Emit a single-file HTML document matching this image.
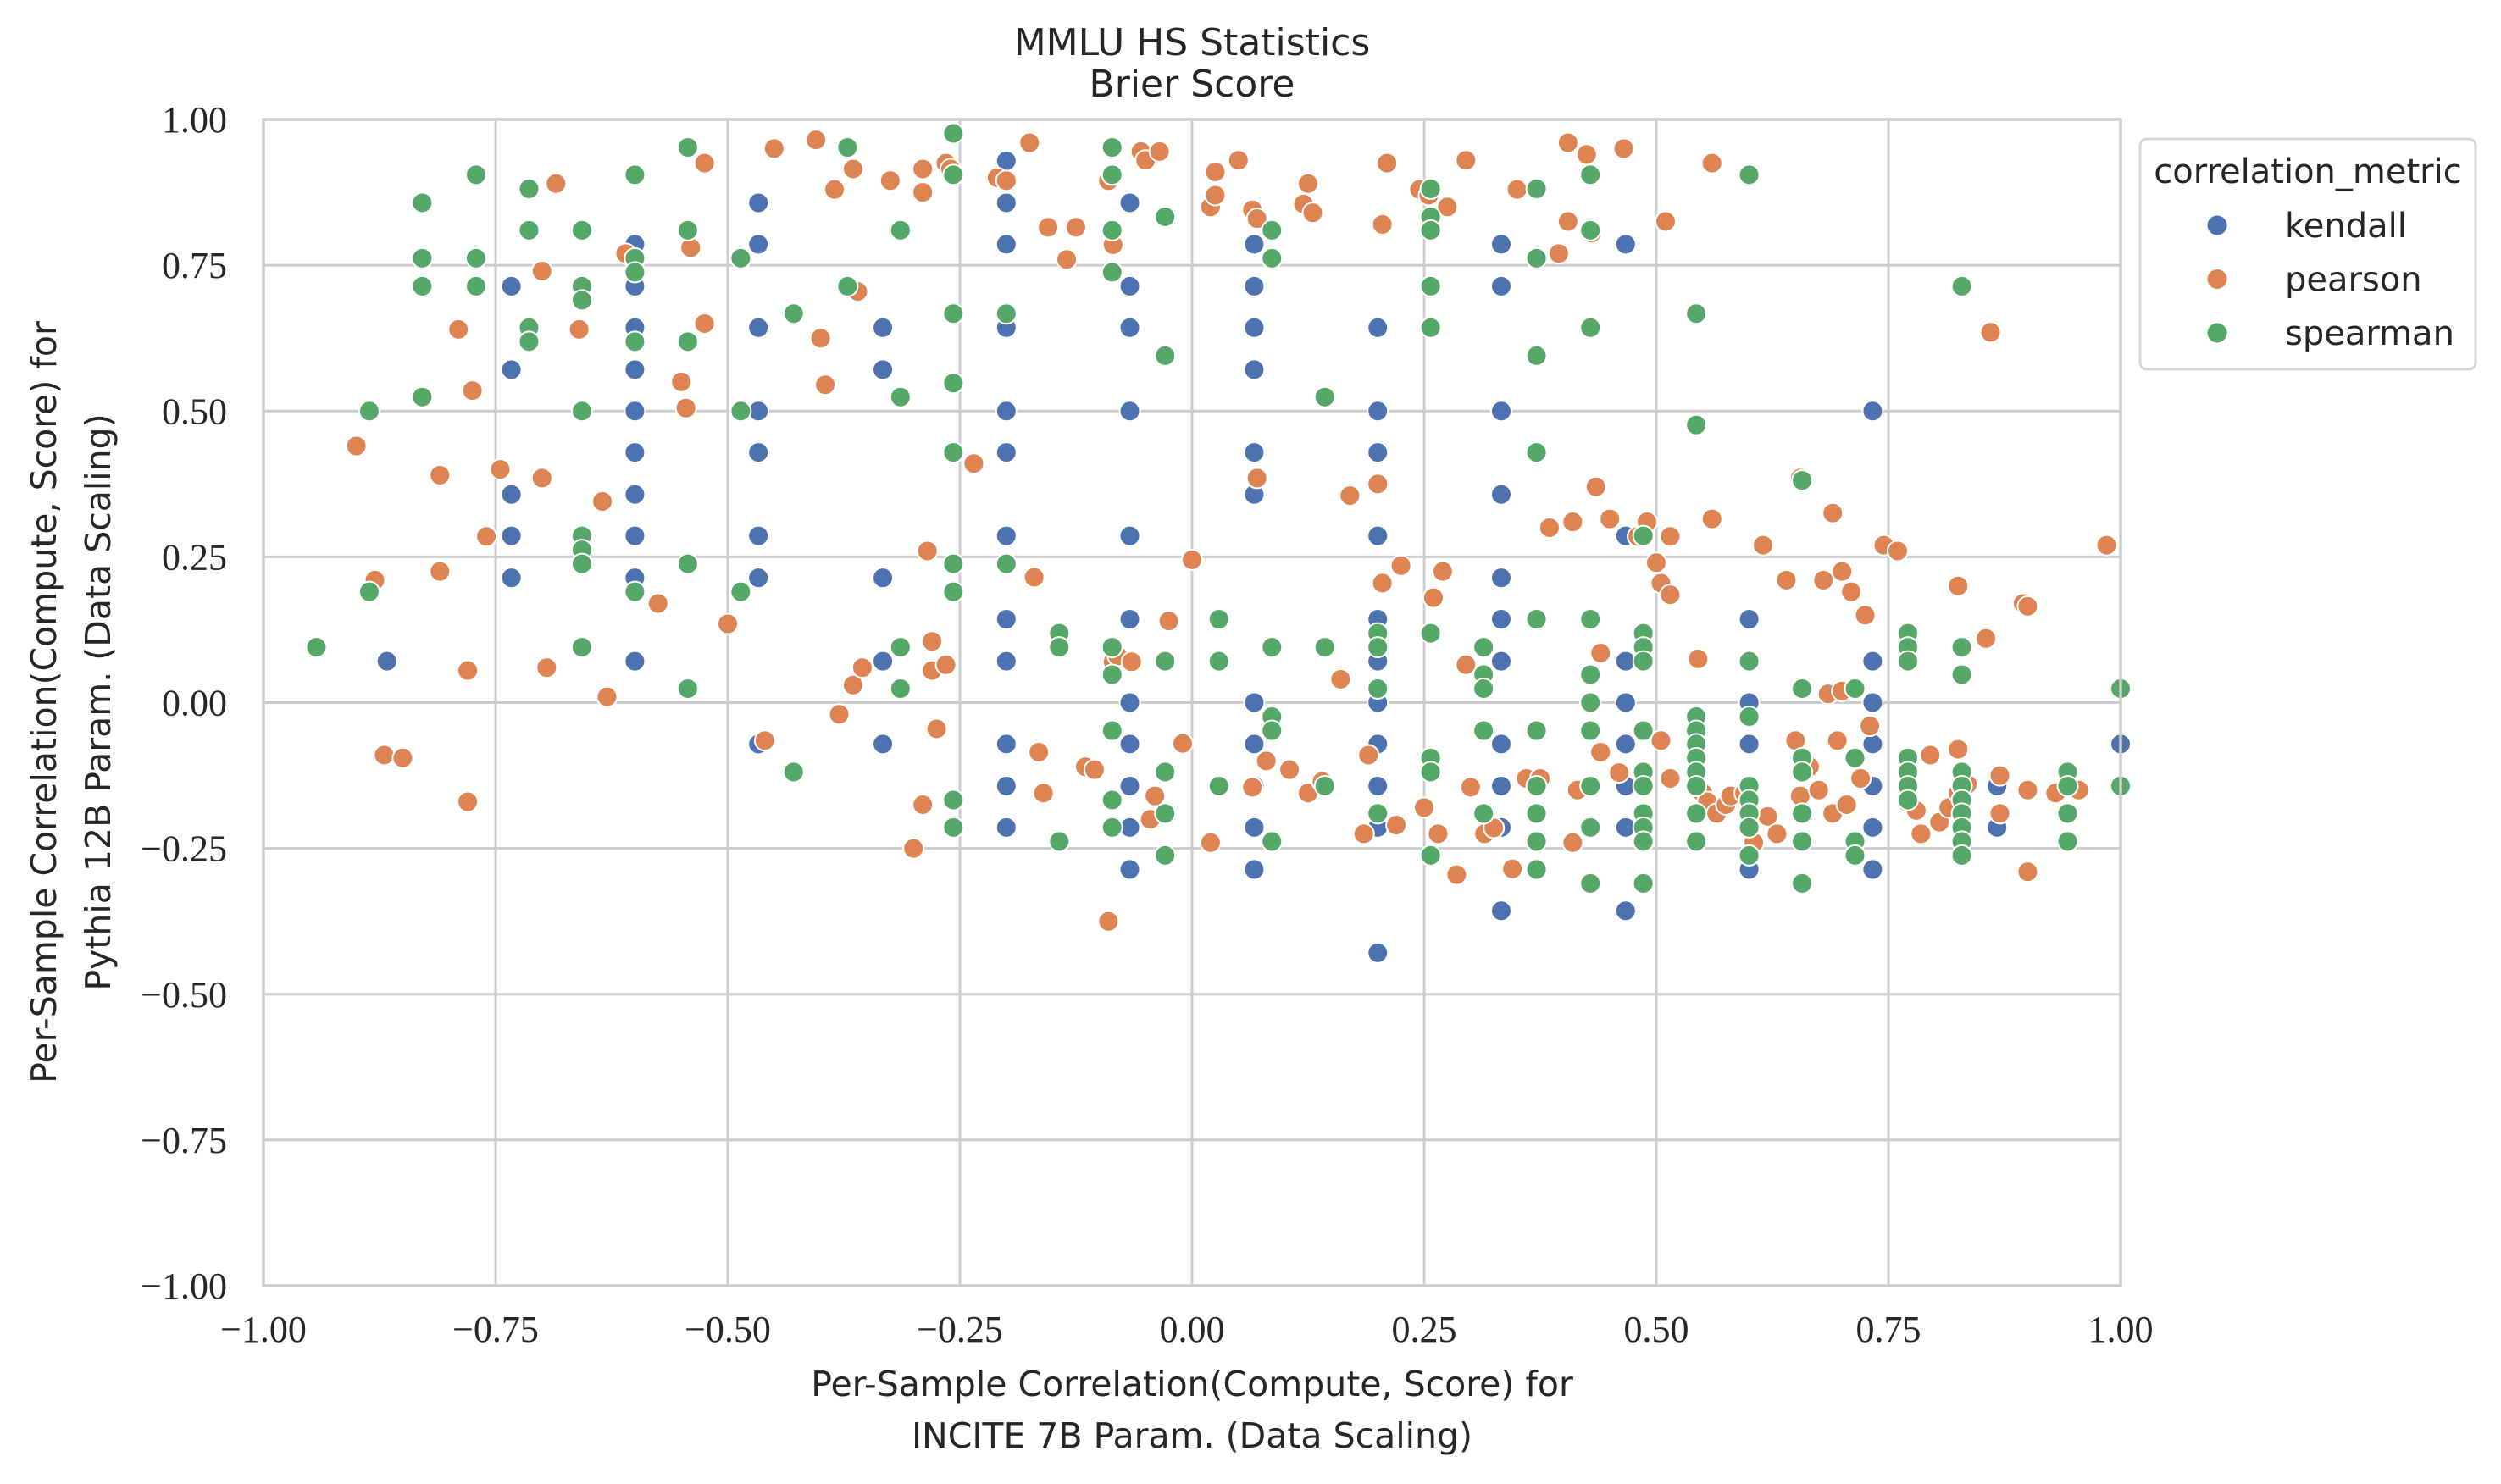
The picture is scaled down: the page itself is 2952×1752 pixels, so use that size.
<!DOCTYPE html>
<html><head><meta charset="utf-8"><style>
html,body{margin:0;padding:0;background:#fff;}
svg{display:block;}
.sans{font-family:"DejaVu Sans","Liberation Sans",sans-serif;fill:#262626;}
.serif{font-family:"Liberation Serif","DejaVu Serif",serif;fill:#262626;}
</style></head><body>
<svg id="chart" width="2952" height="1752" viewBox="0 0 2952 1752" xmlns="http://www.w3.org/2000/svg">
<rect x="0" y="0" width="2952" height="1752" fill="#fff"/>
<g id="grid"></g>
<g id="marks"></g>
<rect x="311" y="141" width="2192" height="1377" fill="none" stroke="#cccccc" stroke-width="3.5"/>
<g id="ticks"></g>
<text class="sans" x="1407" y="65" font-size="44" text-anchor="middle">MMLU HS Statistics</text>
<text class="sans" x="1407" y="114" font-size="44" text-anchor="middle">Brier Score</text>
<text class="sans" x="1407" y="1648" font-size="41" text-anchor="middle">Per-Sample Correlation(Compute, Score) for</text>
<text class="sans" x="1407" y="1709" font-size="41" text-anchor="middle">INCITE 7B Param. (Data Scaling)</text>
<text class="sans" transform="translate(66,829) rotate(-90)" font-size="41" text-anchor="middle">Per-Sample Correlation(Compute, Score) for</text>
<text class="sans" transform="translate(130,829) rotate(-90)" font-size="41" text-anchor="middle">Pythia 12B Param. (Data Scaling)</text>
<g>
<rect x="2526" y="164" width="396" height="272" rx="8" fill="#fff" stroke="#d6d6d6" stroke-width="3"/>
<text class="sans" x="2724" y="216" font-size="40" text-anchor="middle">correlation_metric</text>
<g id="legend-entries"></g>
</g>
</svg>
<script>
const ticks = [-1, -0.75, -0.5, -0.25, 0, 0.25, 0.5, 0.75, 1];
const tickLabels = ["−1.00","−0.75","−0.50","−0.25","0.00","0.25","0.50","0.75","1.00"];
const seriesNames = ["kendall","pearson","spearman"];
const seriesColors = ["#4c72b0","#dd8452","#55a868"];

const kendallX = [-0.867,
-0.733,-0.733,-0.733,-0.733,-0.733,
-0.6,-0.6,-0.6,-0.6,-0.6,-0.6,-0.6,-0.6,-0.6,-0.6,-0.6,
-0.467,-0.467,-0.467,-0.467,-0.467,-0.467,-0.467,-0.467,
-0.333,-0.333,-0.333,-0.333,-0.333,
-0.2,-0.2,-0.2,-0.2,-0.2,-0.2,-0.2,-0.2,-0.2,-0.2,-0.2,-0.2,
-0.067,-0.067,-0.067,-0.067,-0.067,-0.067,-0.067,-0.067,-0.067,-0.067,-0.067,-0.067,
0.067,0.067,0.067,0.067,0.067,0.067,0.067,0.067,0.067,0.067,0.067,
0.2,0.2,0.2,0.2,0.2,0.2,0.2,0.2,0.2,0.2,0.2,
0.333,0.333,0.333,0.333,0.333,0.333,0.333,0.333,0.333,0.333,0.333,
0.467,0.467,0.467,0.467,0.467,0.467,0.467,0.467,
0.6,0.6,0.6,0.6,0.6,0.6,
0.733,0.733,0.733,0.733,0.733,0.733,0.733,
0.867,0.867,
1.0];
const kendallY = [0.071,
0.714,0.571,0.357,0.286,0.214,
0.786,0.76,0.714,0.643,0.571,0.5,0.429,0.357,0.286,0.214,0.071,
0.857,0.786,0.643,0.5,0.429,0.286,0.214,-0.071,
0.643,0.571,0.214,0.071,-0.071,
0.929,0.857,0.786,0.643,0.5,0.429,0.286,0.143,0.071,-0.071,-0.143,-0.214,
0.857,0.714,0.643,0.5,0.286,0.143,0.071,0,-0.071,-0.143,-0.214,-0.286,
0.786,0.714,0.643,0.571,0.429,0.357,0,-0.071,-0.143,-0.214,-0.286,
0.643,0.5,0.429,0.286,0.143,0.071,0,-0.071,-0.143,-0.214,-0.429,
0.786,0.714,0.5,0.357,0.214,0.143,0.071,-0.071,-0.143,-0.214,-0.357,
0.786,0.286,0.071,0,-0.071,-0.143,-0.214,-0.357,
0.143,0,-0.071,-0.143,-0.214,-0.286,
0.5,0.071,0,-0.071,-0.143,-0.214,-0.286,
-0.143,-0.214,
-0.071];

const pearsonX = [-0.9,-0.88,-0.87,-0.85,-0.81,-0.81,-0.79,-0.78,-0.78,-0.775,-0.76,-0.745,-0.70,-0.70,-0.695,-0.685,-0.66,-0.635,-0.63,-0.61,-0.575,-0.55,-0.545,-0.54,-0.525,-0.525,-0.50,-0.46,-0.45,-0.405,-0.40,-0.395,-0.385,-0.38,-0.365,-0.365,-0.36,-0.355,-0.325,-0.30,-0.29,-0.29,-0.29,-0.285,-0.28,-0.28,-0.275,-0.265,-0.265,-0.26,-0.235,-0.21,-0.20,-0.175,-0.17,-0.165,-0.16,-0.155,-0.135,-0.125,-0.115,-0.105,-0.09,-0.09,-0.085,-0.085,-0.08,-0.065,-0.055,-0.05,-0.045,-0.04,-0.035,-0.025,-0.01,0.0,0.02,0.025,0.025,0.02,0.05,0.065,0.065,0.07,0.07,0.08,0.105,0.12,0.125,0.125,0.13,0.14,0.16,0.17,0.185,0.19,0.205,0.20,0.205,0.21,0.22,0.225,0.245,0.25,0.255,0.26,0.265,0.27,0.275,0.285,0.295,0.30,0.295,0.315,0.325,0.345,0.35,0.36,0.375,0.385,0.395,0.405,0.41,0.405,0.41,0.415,0.425,0.43,0.435,0.44,0.44,0.45,0.46,0.465,0.48,0.49,0.50,0.505,0.505,0.51,0.515,0.515,0.515,0.545,0.55,0.555,0.56,0.56,0.565,0.575,0.58,0.595,0.605,0.615,0.62,0.63,0.64,0.65,0.655,0.655,0.665,0.675,0.68,0.685,0.69,0.69,0.695,0.70,0.70,0.705,0.71,0.72,0.725,0.73,0.745,0.76,0.77,0.78,0.785,0.795,0.805,0.815,0.825,0.825,0.825,0.835,0.855,0.86,0.87,0.87,0.895,0.90,0.90,0.90,0.93,0.955,0.985];
const pearsonY = [0.44,0.21,-0.09,-0.095,0.39,0.225,0.64,-0.17,0.055,0.535,0.285,0.40,0.385,0.74,0.06,0.89,0.64,0.345,0.01,0.77,0.17,0.55,0.505,0.78,0.925,0.65,0.135,-0.065,0.95,0.965,0.625,0.545,0.88,-0.02,0.03,0.915,0.705,0.06,0.895,-0.25,0.915,-0.175,0.875,0.26,0.055,0.105,-0.045,0.925,0.065,0.915,0.41,0.90,0.895,0.96,0.215,-0.085,-0.155,0.815,0.76,0.815,-0.11,-0.115,-0.375,0.895,0.785,0.07,0.08,0.07,0.945,0.93,-0.2,-0.16,0.945,0.14,-0.07,0.245,0.85,0.91,0.87,-0.24,0.93,-0.145,0.845,0.385,0.83,-0.10,-0.115,0.855,-0.155,0.89,0.84,-0.135,0.04,0.355,-0.225,-0.09,0.82,0.375,0.205,0.925,-0.21,0.235,0.88,-0.18,0.87,0.18,-0.225,0.225,0.85,-0.295,0.93,-0.145,0.065,-0.225,-0.215,-0.285,0.88,-0.13,-0.13,0.30,0.77,0.825,0.31,0.96,-0.24,-0.15,0.94,0.805,0.37,0.085,-0.085,0.315,-0.12,0.95,0.285,0.31,0.24,0.205,-0.065,0.825,0.185,0.285,-0.13,0.075,-0.155,-0.17,0.315,0.925,-0.19,-0.175,-0.16,-0.155,-0.24,0.27,-0.195,-0.225,0.21,-0.065,0.385,-0.16,-0.11,-0.15,0.21,0.015,0.325,-0.19,-0.065,0.225,0.02,-0.175,0.19,-0.13,0.15,-0.04,0.27,0.26,-0.17,-0.185,-0.225,-0.09,-0.205,-0.18,-0.155,0.20,-0.08,-0.14,0.11,0.635,-0.19,-0.125,0.17,0.165,-0.29,-0.15,-0.155,-0.15,0.27];

const spearmanX = [-0.943,-0.886,-0.886,-0.829,-0.829,-0.829,-0.829,-0.771,-0.771,-0.771,-0.714,-0.714,-0.714,-0.714,-0.657,-0.657,-0.657,-0.657,-0.657,-0.657,-0.657,-0.657,-0.6,-0.6,-0.6,-0.6,-0.6,-0.543,-0.543,-0.543,-0.543,-0.543,-0.486,-0.486,-0.486,-0.429,-0.429,-0.371,-0.371,-0.314,-0.314,-0.314,-0.314,-0.257,-0.257,-0.257,-0.257,-0.257,-0.257,-0.257,-0.257,-0.257,-0.2,-0.2,-0.143,-0.143,-0.143,-0.086,-0.086,-0.086,-0.086,-0.086,-0.086,-0.086,-0.086,-0.086,-0.029,-0.029,-0.029,-0.029,-0.029,-0.029,0.029,0.029,0.029,0.086,0.086,0.086,0.086,0.086,0.086,0.143,0.143,0.143,0.2,0.2,0.2,0.2,0.257,0.257,0.257,0.257,0.257,0.257,0.257,0.257,0.257,0.314,0.314,0.314,0.314,0.314,0.371,0.371,0.371,0.371,0.371,0.371,0.371,0.371,0.371,0.371,0.429,0.429,0.429,0.429,0.429,0.429,0.429,0.429,0.429,0.429,0.486,0.486,0.486,0.486,0.486,0.486,0.486,0.486,0.486,0.486,0.486,0.543,0.543,0.543,0.543,0.543,0.543,0.543,0.543,0.543,0.543,0.6,0.6,0.6,0.6,0.6,0.6,0.6,0.6,0.657,0.657,0.657,0.657,0.657,0.657,0.657,0.714,0.714,0.714,0.714,0.771,0.771,0.771,0.771,0.771,0.771,0.771,0.829,0.829,0.829,0.829,0.829,0.829,0.829,0.829,0.829,0.829,0.943,0.943,0.943,0.943,1.0,1.0];
const spearmanY = [0.095,0.5,0.19,0.857,0.762,0.714,0.524,0.905,0.762,0.714,0.881,0.81,0.643,0.619,0.81,0.714,0.69,0.5,0.286,0.262,0.238,0.095,0.905,0.762,0.738,0.619,0.19,0.952,0.81,0.619,0.238,0.024,0.762,0.5,0.19,0.667,-0.119,0.952,0.714,0.81,0.524,0.095,0.024,0.976,0.905,0.667,0.548,0.429,0.238,0.19,-0.167,-0.214,0.667,0.238,0.119,0.095,-0.238,0.952,0.905,0.81,0.738,0.095,0.048,-0.048,-0.167,-0.214,0.833,0.595,0.071,-0.119,-0.19,-0.262,0.143,0.071,-0.143,0.81,0.762,0.095,-0.024,-0.048,-0.238,0.524,0.095,-0.143,0.119,0.095,0.024,-0.19,0.881,0.833,0.81,0.714,0.643,0.119,-0.095,-0.119,-0.262,0.095,0.048,0.024,-0.048,-0.19,0.881,0.762,0.595,0.429,0.143,-0.048,-0.143,-0.19,-0.238,-0.286,0.905,0.81,0.643,0.143,0.048,0,-0.048,-0.143,-0.214,-0.31,0.286,0.119,0.095,0.071,-0.048,-0.119,-0.143,-0.19,-0.214,-0.238,-0.31,0.667,0.476,-0.024,-0.048,-0.071,-0.095,-0.119,-0.143,-0.19,-0.238,0.905,0.071,-0.024,-0.143,-0.167,-0.19,-0.214,-0.262,0.381,0.024,-0.095,-0.119,-0.19,-0.238,-0.31,0.024,-0.095,-0.238,-0.262,0.119,0.095,0.071,-0.095,-0.119,-0.143,-0.167,0.714,0.095,0.048,-0.119,-0.143,-0.167,-0.19,-0.214,-0.238,-0.262,-0.119,-0.143,-0.19,-0.238,0.024,-0.143];

const NS = "http://www.w3.org/2000/svg";
const L = 311, R = 2503, T = 141, B = 1518;
function xScale(v){ return L + (v + 1) / 2 * (R - L); }
function yScale(v){ return T + (1 - v) / 2 * (B - T); }

const grid = document.getElementById('grid');
const tickG = document.getElementById('ticks');
ticks.forEach((t, i) => {
  const vx = document.createElementNS(NS, 'line');
  vx.setAttribute('x1', xScale(t)); vx.setAttribute('x2', xScale(t));
  vx.setAttribute('y1', T); vx.setAttribute('y2', B);
  vx.setAttribute('stroke', '#cccccc'); vx.setAttribute('stroke-width', '3');
  
  
  grid.appendChild(vx);
  const hy = document.createElementNS(NS, 'line');
  hy.setAttribute('x1', L); hy.setAttribute('x2', R);
  hy.setAttribute('y1', yScale(t)); hy.setAttribute('y2', yScale(t));
  hy.setAttribute('stroke', '#cccccc'); hy.setAttribute('stroke-width', '3');
  
  
  grid.appendChild(hy);
  const xl = document.createElementNS(NS, 'text');
  xl.setAttribute('class', 'serif');
  xl.setAttribute('x', xScale(t)); xl.setAttribute('y', 1584);
  xl.setAttribute('font-size', '44'); xl.setAttribute('text-anchor', 'middle');
  xl.textContent = tickLabels[i];
  
  
  tickG.appendChild(xl);
  const yl = document.createElementNS(NS, 'text');
  yl.setAttribute('class', 'serif');
  yl.setAttribute('x', 268); yl.setAttribute('y', yScale(t) + 15);
  yl.setAttribute('font-size', '44'); yl.setAttribute('text-anchor', 'end');
  yl.textContent = tickLabels[i];
  
  
  tickG.appendChild(yl);
});

const marks = document.getElementById('marks');
const seriesX = [kendallX, pearsonX, spearmanX];
const seriesY = [kendallY, pearsonY, spearmanY];
seriesX.forEach((xs, s) => {
  const g = document.createElementNS(NS, 'g');
  
  
  xs.forEach((xv, i) => {
    const c = document.createElementNS(NS, 'circle');
    c.setAttribute('cx', xScale(xv)); c.setAttribute('cy', yScale(seriesY[s][i]));
    c.setAttribute('r', '12'); c.setAttribute('fill', seriesColors[s]);
    c.setAttribute('stroke', '#ffffff'); c.setAttribute('stroke-width', '2');
    
    
    g.appendChild(c);
  });
  marks.appendChild(g);
});

const leg = document.getElementById('legend-entries');
seriesNames.forEach((n, i) => {
  const cy = 266 + i * 63.5;
  const c = document.createElementNS(NS, 'circle');
  c.setAttribute('cx', 2617); c.setAttribute('cy', cy); c.setAttribute('r', '11.5');
  c.setAttribute('fill', seriesColors[i]);
  
  
  leg.appendChild(c);
  const t = document.createElementNS(NS, 'text');
  t.setAttribute('class', 'sans');
  t.setAttribute('x', 2697); t.setAttribute('y', cy + 14);
  t.setAttribute('font-size', '40');
  t.textContent = n;
  
  
  leg.appendChild(t);
});
</script>
</body></html>
